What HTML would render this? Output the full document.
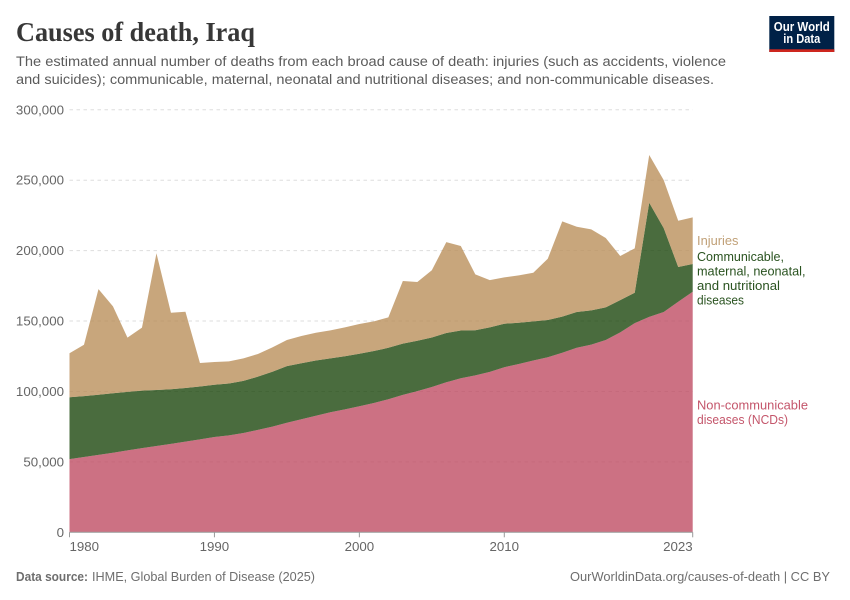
<!DOCTYPE html>
<html lang="en">
<head>
<meta charset="utf-8">
<title>Causes of death, Iraq</title>
<style>
html,body{margin:0;padding:0;background:#fff;}
svg{display:block;font-family:"Liberation Sans",sans-serif;}
</style>
</head>
<body>
<svg id="chart" xmlns="http://www.w3.org/2000/svg" width="850" height="600" viewBox="0 0 850 600">
  <text x="16" y="41" font-family="'Liberation Serif',serif" font-weight="700" font-size="27" fill="#373737" textLength="239" lengthAdjust="spacingAndGlyphs">Causes of death, Iraq</text>
  <text x="16" y="66" font-size="14.2" fill="#5b5b5b" textLength="710" lengthAdjust="spacingAndGlyphs">The estimated annual number of deaths from each broad cause of death: injuries (such as accidents, violence</text>
  <text x="16" y="84" font-size="14.2" fill="#5b5b5b" textLength="698" lengthAdjust="spacingAndGlyphs">and suicides); communicable, maternal, neonatal and nutritional diseases; and non-communicable diseases.</text>

  <g>
    <rect x="769.3" y="16" width="65" height="36" fill="#002147"/>
    <rect x="769.3" y="49.3" width="65" height="2.7" fill="#ce261e"/>
    <text x="801.8" y="31" text-anchor="middle" font-size="12.5" font-weight="700" fill="#fff" textLength="56" lengthAdjust="spacingAndGlyphs">Our World</text>
    <text x="801.8" y="43" text-anchor="middle" font-size="12.5" font-weight="700" fill="#fff" textLength="37" lengthAdjust="spacingAndGlyphs">in Data</text>
  </g>

  <g id="grid"></g>
  <g id="areas"></g>
  <g id="yaxis"></g>
  <g id="xaxis"></g>

  <g font-size="12.6">
    <text x="697" y="245" fill="#c0a077" textLength="41.5" lengthAdjust="spacingAndGlyphs">Injuries</text>
    <g fill="#2a5320">
      <text x="697" y="261" textLength="87" lengthAdjust="spacingAndGlyphs">Communicable,</text>
      <text x="697" y="275.5" textLength="108.5" lengthAdjust="spacingAndGlyphs">maternal, neonatal,</text>
      <text x="697" y="290" textLength="83" lengthAdjust="spacingAndGlyphs">and nutritional</text>
      <text x="697" y="304.5" textLength="47" lengthAdjust="spacingAndGlyphs">diseases</text>
    </g>
    <g fill="#c4566b">
      <text x="697" y="409.5" textLength="111" lengthAdjust="spacingAndGlyphs">Non-communicable</text>
      <text x="697" y="424" textLength="91" lengthAdjust="spacingAndGlyphs">diseases (NCDs)</text>
    </g>
  </g>

  <text x="16" y="581" font-size="13" font-weight="700" fill="#6e6e6e" textLength="72" lengthAdjust="spacingAndGlyphs">Data source:</text>
  <text x="92" y="581" font-size="13" fill="#6e6e6e" textLength="223" lengthAdjust="spacingAndGlyphs">IHME, Global Burden of Disease (2025)</text>
  <a><text x="570" y="581" font-size="13" fill="#6e6e6e" textLength="260" lengthAdjust="spacingAndGlyphs">OurWorldinData.org/causes-of-death | CC BY</text></a>
</svg>
<script>
const years = [1980,1981,1982,1983,1984,1985,1986,1987,1988,1989,1990,1991,1992,1993,1994,1995,1996,1997,1998,1999,2000,2001,2002,2003,2004,2005,2006,2007,2008,2009,2010,2011,2012,2013,2014,2015,2016,2017,2018,2019,2020,2021,2022,2023];
const ncds = [52000,53500,55000,56500,58200,59800,61300,62800,64400,66000,67700,68800,70500,72700,75000,77800,80300,82800,85200,87300,89500,91800,94500,97600,100200,103200,106500,109400,111400,113900,117200,119500,122000,124300,127500,131000,133300,136500,142000,148500,153000,156400,163700,170800];
const communicable = [43900,43200,42700,42200,41500,40800,39700,38800,38100,37500,37100,36900,37000,37800,39000,40200,39700,39200,38300,37700,37300,36900,36500,36400,35800,35100,35000,33900,32100,31600,30900,29300,27800,26400,25600,25400,24300,23200,22900,21600,81000,59600,24700,19700];
const injuries = [31200,36500,75000,61700,38500,44700,97100,54300,54100,16700,16100,15700,16000,16100,17300,18500,19400,19700,19900,20500,21100,21100,21600,44400,41700,47800,64500,60000,39600,33600,32900,33600,34500,43500,67700,60600,57500,49300,31300,31500,33900,34100,32800,33100];
const yTicks = [0,50000,100000,150000,200000,250000,300000];
const xTicks = [1980,1990,2000,2010,2023];

const NS = 'http://www.w3.org/2000/svg';
const xScale = function (year) { return 69.5 + (year - 1980) * (692.7 - 69.5) / (2023 - 1980); };
const yScale = function (value) { return 532.3 - value * (532.3 - 109.8) / 300000; };

function make(tag, parent) {
  const el = document.createElementNS(NS, tag);
  parent.appendChild(el);
  return el;
}

const gridGroup = document.getElementById('grid');
const yAxisGroup = document.getElementById('yaxis');
yTicks.forEach(function (tick) {
  const label = make('text', yAxisGroup);
  
  
  label.setAttribute('x', 64);
  label.setAttribute('y', yScale(tick) + 4.5);
  label.setAttribute('text-anchor', 'end');
  label.setAttribute('font-size', '13.3');
  label.setAttribute('fill', '#666');
  label.textContent = tick.toLocaleString('en-US');
  if (tick === 0) return;
  const line = make('line', gridGroup);
  
  
  line.setAttribute('x1', 69.5);
  line.setAttribute('x2', 692.7);
  line.setAttribute('y1', yScale(tick));
  line.setAttribute('y2', yScale(tick));
  line.setAttribute('stroke', '#ddd');
  line.setAttribute('stroke-dasharray', '3.5,3.5');
});

const seriesList = [
  { key: 'ncds-area', values: ncds, color: '#bf4d64' },
  { key: 'communicable-area', values: communicable, color: '#1d470e' },
  { key: 'injuries-area', values: injuries, color: '#ba905b' }
];
const areasGroup = document.getElementById('areas');
let baseline = years.map(function () { return 0; });
seriesList.forEach(function (series) {
  const tops = series.values.map(function (v, i) { return baseline[i] + v; });
  const upper = years.map(function (y, i) { return xScale(y).toFixed(2) + ',' + yScale(tops[i]).toFixed(2); });
  const lower = years.map(function (y, i) { return xScale(y).toFixed(2) + ',' + yScale(baseline[i]).toFixed(2); }).reverse();
  const poly = make('polygon', areasGroup);
  
  
  poly.setAttribute('points', upper.concat(lower).join(' '));
  poly.setAttribute('fill', series.color);
  poly.setAttribute('fill-opacity', '0.8');
  baseline = tops;
});

const xAxisGroup = document.getElementById('xaxis');
const axisLine = make('line', xAxisGroup);


axisLine.setAttribute('x1', xScale(years[0]));
axisLine.setAttribute('x2', xScale(years[years.length - 1]));
axisLine.setAttribute('y1', yScale(0));
axisLine.setAttribute('y2', yScale(0));
axisLine.setAttribute('stroke', '#999');
axisLine.setAttribute('stroke-width', '1');
xTicks.forEach(function (tick, i) {
  const mark = make('line', xAxisGroup);
  
  
  mark.setAttribute('x1', xScale(tick));
  mark.setAttribute('x2', xScale(tick));
  mark.setAttribute('y1', yScale(0));
  mark.setAttribute('y2', yScale(0) + 5);
  mark.setAttribute('stroke', '#999');
  const label = make('text', xAxisGroup);
  
  
  label.setAttribute('x', xScale(tick));
  label.setAttribute('y', 551);
  label.setAttribute('font-size', '13.3');
  label.setAttribute('fill', '#666');
  label.setAttribute('text-anchor', i === 0 ? 'start' : (i === xTicks.length - 1 ? 'end' : 'middle'));
  label.textContent = String(tick);
});
</script>
</body>
</html>
